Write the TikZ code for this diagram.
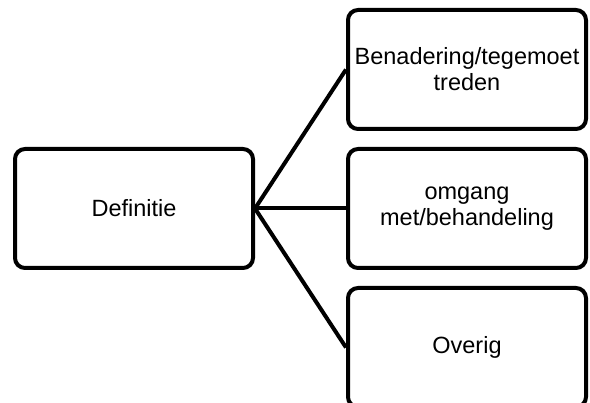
\documentclass[tikz,border=0pt]{standalone}
\usepackage{fontspec}
\setmainfont{Liberation Sans}
\begin{document}
\begin{tikzpicture}[x=1pt,y=-1pt,line width=4pt,
		blok/.style={draw,rounded corners=10pt,minimum width=238pt,minimum height=119pt,inner sep=1pt,align=center,font=\fontsize{23.5}{26}\selectfont}]
			\useasboundingbox (0,0) rectangle (590,403);
			
			\node[blok] (def) at (134,208.5) {Definitie};
			\node[blok] (ben) at (467,69.5) {Benadering/tegemoet\\treden};
			\node[blok] (omg) at (467,208.5) {omgang\\met/behandeling};
			\node[blok] (ove) at (467,347.5) {Overig};
			
			\draw (def.east) -- (ben.west);
			\draw (def.east) -- (omg.west);
			\draw (def.east) -- (ove.west);
		\end{tikzpicture}
\end{document}
